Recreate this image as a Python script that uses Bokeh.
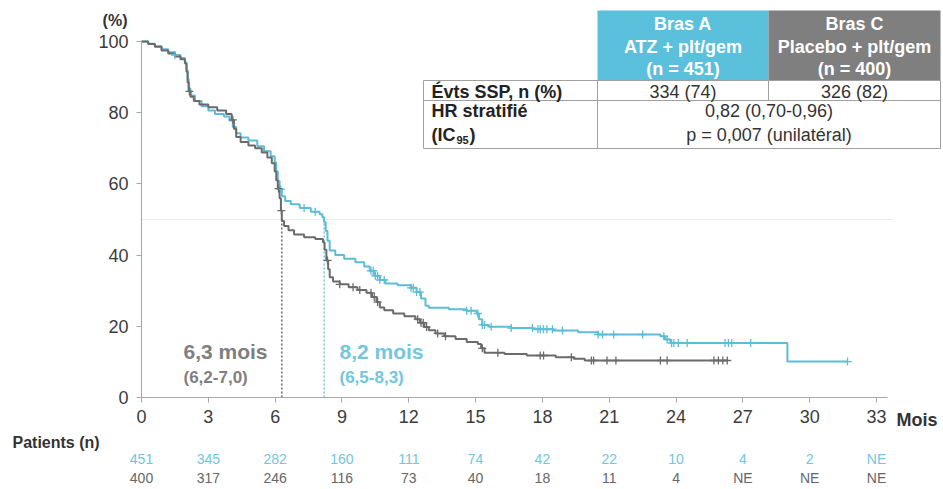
import numpy as np
from bokeh.plotting import figure
from bokeh.models import Range1d
from bokeh.core.properties import value
from bokeh.embed import file_html
from bokeh.resources import INLINE

# ---------------- data ----------------
# Bras A : ATZ + plt/gem  (Kaplan-Meier steps, months / % PFS)
arm_a_t = [0.0, 0.3, 0.6, 0.9, 1.2, 1.5, 1.75, 1.95, 2.02, 2.07, 2.12, 2.2, 2.4, 2.7,
           3.0, 3.3, 3.7, 3.95, 4.1, 4.25, 4.45, 4.8, 5.2, 5.5, 5.8, 5.98, 6.05, 6.12,
           6.2, 6.3, 6.45, 6.7, 7.1, 7.6, 8.0, 8.12, 8.2, 8.27, 8.35, 8.45, 8.7, 9.1,
           9.6, 10.0, 10.25, 10.45, 10.7, 10.95, 11.5, 12.1, 12.35, 12.55, 12.75, 12.9,
           13.8, 14.6, 15.05, 15.15, 15.3, 15.6, 16.6, 17.6, 18.5, 19.6, 20.5, 23.3,
           23.5, 23.75, 29.0, 31.7]
arm_a_s = [100, 99.4, 98.7, 97.8, 97.0, 96.2, 95.4, 94.2, 92.0, 89.5, 86.8, 84.8, 83.3, 81.8,
           80.6, 79.6, 78.9, 77.8, 76.0, 74.2, 73.0, 72.2, 70.6, 69.2, 67.8, 66.0, 63.5, 60.8,
           58.5, 56.5, 55.2, 54.3, 53.2, 52.2, 51.5, 50.6, 49.2, 46.8, 44.0, 41.3, 40.0, 39.0,
           38.0, 36.8, 35.6, 34.2, 33.0, 32.0, 31.5, 30.8, 29.6, 27.8, 25.8, 25.2,
           24.8, 24.4, 23.6, 22.0, 20.4, 19.9, 19.5, 19.2, 18.8, 18.3, 17.7, 17.2,
           16.3, 15.3, 10.1, 10.1]
arm_a_censored = [1.5, 6.25, 7.3, 7.8, 10.3, 10.4, 10.5, 10.6, 10.7, 10.9, 12.1, 12.2, 12.35,
                  12.5, 14.6, 14.8, 15.1, 15.3, 15.4, 15.7, 16.6, 17.55, 17.8, 17.9, 18.05,
                  18.2, 18.45, 18.9, 20.5, 20.7, 21.2, 22.5, 23.45, 23.6, 23.8, 23.9, 24.1,
                  24.5, 26.2, 26.35, 26.5, 27.35, 31.7]

# Bras C : Placebo + plt/gem
arm_c_t = [0.0, 0.3, 0.6, 0.9, 1.2, 1.5, 1.75, 1.95, 2.02, 2.07, 2.12, 2.2, 2.35, 2.6,
           3.0, 3.4, 3.8, 4.05, 4.15, 4.25, 4.45, 4.8, 5.1, 5.4, 5.65, 5.85, 5.98, 6.05,
           6.12, 6.2, 6.26, 6.3, 6.4, 6.6, 6.85, 7.3, 7.8, 8.15, 8.22, 8.3, 8.38, 8.45,
           8.6, 8.9, 9.3, 9.7, 10.1, 10.35, 10.55, 10.7, 10.9, 11.3, 11.8, 12.3, 12.5,
           12.7, 12.9, 13.2, 13.6, 14.1, 14.6, 15.1, 15.25, 15.4, 16.3, 17.3, 18.6,
           19.4, 19.9, 26.3]
arm_c_s = [100, 99.3, 98.5, 97.5, 96.6, 95.8, 95.0, 93.8, 91.5, 88.5, 86.0, 84.5, 83.3, 82.3,
           81.5, 80.6, 79.6, 78.0, 75.5, 73.2, 71.8, 70.8, 70.0, 68.8, 67.4, 65.8, 63.5, 61.0,
           58.7, 56.0, 52.5, 49.6, 48.2, 47.0, 45.8, 45.0, 44.5, 43.6, 41.5, 38.5, 36.0, 33.8,
           32.6, 31.8, 31.0, 30.2, 29.4, 28.2, 26.8, 25.3, 24.5, 23.6, 22.8, 22.0, 21.0,
           19.8, 18.9, 18.0, 17.2, 16.4, 15.6, 15.0, 13.8, 12.6, 12.2, 11.8, 11.3,
           10.9, 10.4, 10.4]
arm_c_censored = [2.15, 4.1, 6.15, 6.28, 8.35, 8.9, 9.5, 9.8, 10.3, 10.45, 10.6, 12.4, 12.55,
                  12.65, 12.8, 13.3, 13.65, 15.3, 16.0, 17.9, 18.05, 19.3, 20.2, 20.3, 20.9,
                  21.3, 23.3, 23.6, 25.7, 25.9, 26.1, 26.3]

median_a, median_c = 8.2, 6.3

# patients at risk
risk_months = [0, 3, 6, 9, 12, 15, 18, 21, 24, 27, 30, 33]
risk_a = ["451", "345", "282", "160", "111", "74", "42", "22", "10", "4", "2", "NE"]
risk_c = ["400", "317", "246", "116", "73", "40", "18", "11", "4", "NE", "NE", "NE"]

x_ticks = list(range(0, 34, 3))
y_ticks = [0, 20, 40, 60, 80, 100]

# ---------------- styling ----------------
BLUE = "#5cbdd6"
BLUE_TXT = "#72c6dd"
GREY = "#6b6b6b"
GREY_TXT = "#7f7f7f"
FONT = "Liberation Sans"

W, H = 943, 489
ORIGIN_X, ORIGIN_Y = 141, 397          # canvas pixel of (0 months, 0 %)
PX_PER_MONTH = 735 / 33
PX_PER_PCT = 3.56


def mx(px):
    """canvas x pixel -> months"""
    return (px - ORIGIN_X) / PX_PER_MONTH


def my(py):
    """canvas y pixel (from top) -> percent"""
    return (ORIGIN_Y - py) / PX_PER_PCT


p = figure(width=W, height=H, output_backend="svg", toolbar_location=None,
           x_range=Range1d(mx(0), mx(W)), y_range=Range1d(my(H), my(0)),
           min_border=0)
p.outline_line_color = None
p.grid.visible = False
p.background_fill_color = "white"

# axes drawn through the origin of the data space
for ax in (p.xaxis, p.yaxis):
    ax.fixed_location = 0
    ax.axis_line_color = "#a8a8a8"
    ax.major_tick_line_color = "#a8a8a8"
    ax.major_tick_out = 5
    ax.major_tick_in = 0
    ax.minor_tick_line_color = None
    ax.major_label_text_font = FONT
    ax.major_label_text_font_size = "18px"
    ax.major_label_text_color = "#3c3c3c"
p.xaxis.ticker = x_ticks
p.yaxis.ticker = y_ticks
p.xaxis.bounds = (0, mx(887))
p.yaxis.bounds = (0, 100)
p.xaxis.major_label_standoff = 7
p.yaxis.major_label_standoff = 8

# 50 % reference line
p.segment(x0=[0], y0=[50], x1=[mx(893)], y1=[50], line_color="#ececec", line_width=1)

# median drop lines
p.segment(x0=[median_c], y0=[0], x1=[median_c], y1=[50], line_color="#555555",
          line_width=1.3, line_dash="2 2")
p.segment(x0=[median_a], y0=[0], x1=[median_a], y1=[50], line_color=BLUE,
          line_width=1.3, line_dash="2 2")

# KM curves
p.step(arm_a_t, arm_a_s, mode="after", line_color=BLUE, line_width=2)
p.step(arm_c_t, arm_c_s, mode="after", line_color=GREY, line_width=2)


def surv_at(ts, ss, c):
    i = np.searchsorted(np.array(ts), np.array(c), side="right") - 1
    return list(np.array(ss)[i])


p.scatter(arm_a_censored, surv_at(arm_a_t, arm_a_s, arm_a_censored), marker="cross",
          size=8, line_color=BLUE, line_width=1.3)
p.scatter(arm_c_censored, surv_at(arm_c_t, arm_c_s, arm_c_censored), marker="cross",
          size=8, line_color=GREY, line_width=1.3)

# median annotations
p.text(x=[mx(183), mx(183)], y=[my(351), my(377)], text=["6,3 mois", "(6,2-7,0)"],
       text_font=value(FONT), text_font_style="bold", text_font_size=["21px", "17px"],
       text_color=GREY_TXT, text_baseline="middle", text_align="left")
p.text(x=[mx(339), mx(339)], y=[my(351), my(377)], text=["8,2 mois", "(6,5-8,3)"],
       text_font=value(FONT), text_font_style="bold", text_font_size=["21px", "17px"],
       text_color=BLUE_TXT, text_baseline="middle", text_align="left")

# ---------------- summary table ----------------
T_L, T_A, T_C, T_R = 423, 597, 768, 940
T_TOP, T_H1, T_R1, T_R2 = 10, 80, 100, 148

p.quad(left=[mx(T_A), mx(T_C)], right=[mx(T_C), mx(T_R)],
       top=[my(T_TOP)] * 2, bottom=[my(T_H1)] * 2,
       fill_color=["#5bc0dc", "#7f7f7f"], line_color=None)

border_x0 = [T_L, T_L, T_L, T_L, T_A, T_C, T_R]
border_y0 = [T_H1, T_R1, T_R2, T_H1, T_H1, T_H1, T_H1]
border_x1 = [T_R, T_R, T_R, T_L, T_A, T_C, T_R]
border_y1 = [T_H1, T_R1, T_R2, T_R2, T_R2, T_R1, T_R2]
p.segment(x0=[mx(v) for v in border_x0], y0=[my(v) for v in border_y0],
          x1=[mx(v) for v in border_x1], y1=[my(v) for v in border_y1],
          line_color="#a0a0a0", line_width=1)

cA = (T_A + T_C) / 2
cC = (T_C + T_R) / 2
header_lines_y = [23, 46, 68]
p.text(x=[mx(cA)] * 3 + [mx(cC)] * 3, y=[my(v) for v in header_lines_y] * 2,
       text=["Bras A", "ATZ + plt/gem", "(n = 451)",
             "Bras C", "Placebo + plt/gem", "(n = 400)"],
       text_font=value(FONT), text_font_style="bold", text_font_size="18px",
       text_color="white", text_align="center", text_baseline="middle")

p.text(x=[mx(431)] * 2, y=[my(91), my(110)], text=["Évts SSP, n (%)", "HR stratifié"],
       text_font=value(FONT), text_font_style="bold", text_font_size="18px",
       text_color="#222222", text_align="left", text_baseline="middle")
p.text(x=[mx(431)], y=[my(134)], text=["(IC"], text_font=value(FONT),
       text_font_style="bold", text_font_size="18px", text_color="#222222",
       text_align="left", text_baseline="middle")
p.text(x=[mx(456)], y=[my(139)], text=["95"], text_font=value(FONT),
       text_font_style="bold", text_font_size="11px", text_color="#222222",
       text_align="left", text_baseline="middle")
p.text(x=[mx(469)], y=[my(134)], text=[")"], text_font=value(FONT),
       text_font_style="bold", text_font_size="18px", text_color="#222222",
       text_align="left", text_baseline="middle")

cM = (T_A + T_R) / 2
p.text(x=[mx(cA), mx(cC), mx(cM), mx(cM)], y=[my(91), my(91), my(110), my(134)],
       text=["334 (74)", "326 (82)", "0,82 (0,70-0,96)", "p = 0,007 (unilatéral)"],
       text_font=value(FONT), text_font_size="18px", text_color="#333333",
       text_align="center", text_baseline="middle")

# ---------------- axis captions and patients at risk ----------------
p.text(x=[mx(127)], y=[my(20)], text=["(%)"], text_font=value(FONT),
       text_font_style="bold", text_font_size="16px", text_color="#333333",
       text_align="right", text_baseline="middle")
p.text(x=[mx(896)], y=[my(419)], text=["Mois"], text_font=value(FONT),
       text_font_style="bold", text_font_size="18px", text_color="#333333",
       text_align="left", text_baseline="middle")
p.text(x=[mx(12)], y=[my(442)], text=["Patients (n)"], text_font=value(FONT),
       text_font_style="bold", text_font_size="16px", text_color="#333333",
       text_align="left", text_baseline="middle")

p.text(x=risk_months, y=[my(458)] * len(risk_months), text=risk_a,
       text_font=value(FONT), text_font_size="14px", text_color=BLUE_TXT,
       text_align="center", text_baseline="middle")
p.text(x=risk_months, y=[my(477)] * len(risk_months), text=risk_c,
       text_font=value(FONT), text_font_size="14px", text_color="#666666",
       text_align="center", text_baseline="middle")

open("out.html", "w").write(file_html(p, INLINE))
